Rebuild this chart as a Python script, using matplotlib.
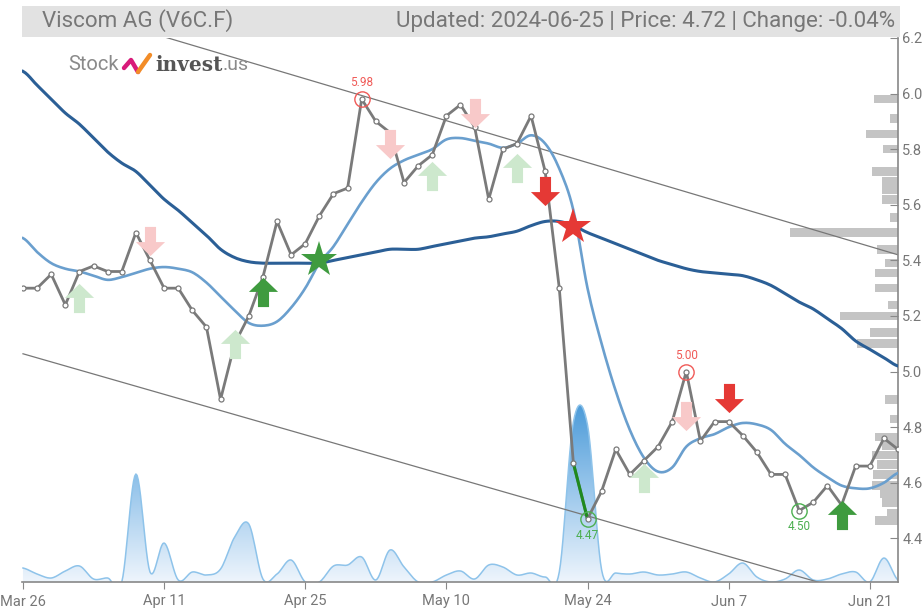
import numpy as np
import pandas as pd
import matplotlib
matplotlib.use('Agg')
import matplotlib.pyplot as plt
from matplotlib.path import Path
from matplotlib.patches import Rectangle
from matplotlib.lines import Line2D

plt.rcParams['font.family'] = ['Roboto', 'DejaVu Sans']

# trading days (Frankfurt), Mar 26 .. Jun 25 2024
holidays = pd.to_datetime(['2024-03-29', '2024-04-01', '2024-05-01'])
dates = [d for d in pd.bdate_range('2024-03-26', '2024-06-25') if d not in holidays]

price = [5.30, 5.30, 5.35, 5.24, 5.36, 5.38, 5.36, 5.36, 5.50, 5.40,
         5.30, 5.30, 5.22, 5.16, 4.90, 5.10, 5.20, 5.34, 5.54, 5.42,
         5.46, 5.56, 5.64, 5.66, 5.98, 5.90, 5.86, 5.68, 5.74, 5.78,
         5.92, 5.96, 5.88, 5.62, 5.80, 5.82, 5.92, 5.72, 5.30, 4.67,
         4.47, 4.57, 4.72, 4.63, 4.68, 4.73, 4.82, 5.00, 4.75, 4.82,
         4.82, 4.77, 4.71, 4.63, 4.63, 4.50, 4.53, 4.59, 4.52, 4.66,
         4.66, 4.76, 4.72]

ma_long = [6.08, 6.03, 5.98, 5.93, 5.89, 5.84, 5.79, 5.75, 5.72, 5.67,
           5.62, 5.58, 5.535, 5.49, 5.44, 5.41, 5.395, 5.39, 5.39, 5.39,
           5.39, 5.39, 5.40, 5.41, 5.42, 5.43, 5.44, 5.44, 5.44, 5.45,
           5.46, 5.47, 5.48, 5.485, 5.495, 5.505, 5.525, 5.54, 5.54, 5.525,
           5.50, 5.48, 5.46, 5.44, 5.42, 5.40, 5.385, 5.37, 5.36, 5.355,
           5.35, 5.345, 5.33, 5.31, 5.28, 5.25, 5.225, 5.19, 5.155, 5.11,
           5.08, 5.05, 5.02]

ma_short = [5.48, 5.43, 5.39, 5.37, 5.36, 5.345, 5.33, 5.34, 5.355, 5.37,
            5.376, 5.37, 5.357, 5.32, 5.27, 5.22, 5.175, 5.165, 5.18, 5.23,
            5.30, 5.39, 5.45, 5.53, 5.61, 5.68, 5.73, 5.76, 5.78, 5.80,
            5.835, 5.84, 5.83, 5.82, 5.805, 5.82, 5.85, 5.82, 5.73, 5.58,
            5.30, 5.10, 4.93, 4.79, 4.69, 4.64, 4.655, 4.73, 4.76, 4.775,
            4.80, 4.815, 4.81, 4.79, 4.74, 4.70, 4.655, 4.62, 4.59, 4.58,
            4.58, 4.60, 4.635]

volume = [14, 8, 4, 11, 16, 3, 4, 0, 108, 10,
          39, 2, 10, 7, 13, 45, 58, 3, 8, 22,
          0, 0, 16, 17, 25, 2, 32, 15, 0, 0,
          7, 11, 3, 17, 15, 7, 9, 5, 10, 160,
          157, 12, 9, 8, 10, 7, 8, 10, 4, 0,
          8, 19, 5, 0, 3, 12, 2, 3, 8, 10,
          0, 24, 2]

# volume profile (price level, relative size)
profile_price = [5.98, 5.91, 5.855, 5.80, 5.72, 5.685, 5.655, 5.62, 5.555, 5.50,
                 5.44, 5.39, 5.355, 5.30, 5.24, 5.20, 5.14, 5.10, 4.90, 4.83,
                 4.765, 4.735, 4.70, 4.665, 4.63, 4.59, 4.56, 4.53, 4.49, 4.465]
profile_size = [24, 8, 32, 15, 26, 16, 16, 16, 8, 108,
                21, 13, 23, 23, 10, 58, 28, 41, 13, 8,
                23, 16, 26, 21, 25, 26, 18, 16, 11, 23]

trend_upper = [6.355, 5.42]
trend_lower = [5.064, 4.16]

# signals: (index, level)
up_faint = [(4, 5.264), (15, 5.10), (29, 5.704), (35, 5.733), (44, 4.617)]
down_faint = [(9, 5.47), (26, 5.82), (32, 5.93), (47, 4.84)]
up_strong = [(17, 5.285), (58, 4.484)]
down_strong = [(37, 5.65), (50, 4.905)]
star_buy = [(21, 5.40)]
star_sell = [(39, 5.52)]
highs = [(24, 5.98), (47, 5.00)]
lows = [(40, 4.47), (55, 4.50)]

title_left = 'Viscom AG (V6C.F)'
title_right = 'Updated: 2024-06-25 | Price: 4.72 | Change: -0.04%'


def smooth(y, n=12):
    y = np.asarray(y, float)
    p = np.concatenate([[y[0]], y, [y[-1]]])
    xs, ys = [], []
    t = np.linspace(0, 1, n, endpoint=False)
    for i in range(len(y) - 1):
        p0, p1, p2, p3 = p[i], p[i + 1], p[i + 2], p[i + 3]
        ys.append(0.5 * (2 * p1 + (-p0 + p2) * t + (2 * p0 - 5 * p1 + 4 * p2 - p3) * t ** 2
                         + (-p0 + 3 * p1 - 3 * p2 + p3) * t ** 3))
        xs.append(i + t)
    xs.append([len(y) - 1]); ys.append([y[-1]])
    return np.concatenate(xs), np.concatenate(ys)


def arrow(up=True):
    v = [(0, 0.5), (0.5, 0.02), (0.19, 0.02), (0.19, -0.5), (-0.19, -0.5), (-0.19, 0.02), (-0.5, 0.02), (0, 0.5)]
    if not up:
        v = [(a, -b) for a, b in v]
    return Path(v, [Path.MOVETO] + [Path.LINETO] * 6 + [Path.CLOSEPOLY])


x = np.arange(len(price))
W, H = 923, 610
fig = plt.figure(figsize=(W / 100, H / 100), dpi=100)
pos = [22 / W, 1 - 582 / H, (898 - 22) / W, (582 - 38) / H]

axv = fig.add_axes(pos, zorder=0)
axp = fig.add_axes(pos, zorder=0.5)
ax = fig.add_axes(pos, zorder=1)
ax.patch.set_visible(False)

xlim = (-0.07, 62.0)
ylim = (4.243, 6.2)

# volume area with gradient
xs, vs = smooth(volume)
axv.set_xlim(*xlim); axv.set_ylim(0, 544)
poly = axv.fill_between(xs, 0, vs, facecolor='none', edgecolor='none')
grad = np.linspace(0, 1, 256).reshape(-1, 1)
cmap = matplotlib.colors.LinearSegmentedColormap.from_list('v', ['#eef5fc', '#9cc8ec', '#4a9ad8'])
im = axv.imshow(grad, cmap=cmap, aspect='auto', origin='lower', extent=[xlim[0], xlim[1], 0, max(volume) + 20], zorder=1)
im.set_clip_path(poly.get_paths()[0], transform=axv.transData)
axv.plot(xs, vs, color='#8ec3ea', lw=1.1, zorder=2)
axv.axis('off')

# volume profile bars, growing from the right axis
axp.barh(profile_price, profile_size, height=0.031, color='#c4c4c4', edgecolor='none')
axp.set_ylim(*ylim); axp.set_xlim(876, 0)
axp.axis('off')

# trend channel
ax.plot([0, 62], trend_upper, color='#777777', lw=0.9, zorder=2)
ax.plot([0, 62], trend_lower, color='#777777', lw=0.9, zorder=2)

# moving averages
xl, yl = smooth(ma_long, 6)
ax.plot(xl, yl, color='#2b5f96', lw=2.2, zorder=3)
xm, ym = smooth(ma_short, 8)
ax.plot(xm, ym, color='#6a9fce', lw=1.9, zorder=3)

# price
ax.plot(x, price, color='#7a7a7a', lw=2.0, zorder=4)
ax.plot(x[39:41], price[39:41], color='#1f8a1f', lw=2.2, zorder=5)
ax.plot(x, price, ls='none', marker='o', ms=3.6, mfc='white', mec='#7a7a7a', mew=0.9, zorder=6)

# signals
for pts, up, col in [(up_faint, True, '#cde8cd'), (down_faint, False, '#f8c9c9'),
                     (up_strong, True, '#3f9b3f'), (down_strong, False, '#e53935')]:
    for i, lv in pts:
        ax.plot(i, lv, marker=arrow(up), ms=21, color=col, mew=0, zorder=7)
for i, lv in star_buy:
    ax.plot(i, lv, marker='*', ms=27, color='#3f9b3f', mew=0, zorder=7)
for i, lv in star_sell:
    ax.plot(i, lv, marker='*', ms=27, color='#e53935', mew=0, zorder=7)

for i, lv in highs:
    ax.plot(i, lv, marker='o', ms=11, mfc='none', mec='#f05a57', mew=1.0, zorder=8)
    ax.annotate('%.2f' % lv, (i, lv), xytext=(0, 7), textcoords='offset points', ha='center', va='bottom',
                fontsize=8.5, color='#f05a57', zorder=8)
for i, lv in lows:
    ax.plot(i, lv, marker='o', ms=11, mfc='none', mec='#4caf50', mew=1.0, zorder=8)
    ax.annotate('%.2f' % lv, (i, lv), xytext=(0, -7), textcoords='offset points', ha='center', va='top',
                fontsize=8.5, color='#4caf50', zorder=8)

ax.set_xlim(*xlim); ax.set_ylim(*ylim)
for s in ['left', 'top']:
    ax.spines[s].set_visible(False)
for s in ['right', 'bottom']:
    ax.spines[s].set_color('#888888')
    ax.spines[s].set_linewidth(1.2)
ax.yaxis.tick_right()
ax.set_yticks(np.arange(4.4, 6.21, 0.2))
ax.set_yticklabels(['%.1f' % v for v in np.arange(4.4, 6.21, 0.2)])
ax.tick_params(axis='y', direction='in', length=6, color='#888888', labelcolor='#777777', labelsize=10.5, pad=3)
tick_idx = list(range(0, 62, 10))
ax.set_xticks(tick_idx)
ax.set_xticklabels([dates[i].strftime('%b ') + str(dates[i].day) for i in tick_idx])
ax.tick_params(axis='x', direction='out', length=5, color='#888888', labelcolor='#777777', labelsize=10.5, pad=4)

# header
fig.patches.append(Rectangle((22 / W, 1 - 37 / H), (900 - 22) / W, 31 / H, transform=fig.transFigure,
                             facecolor='#e2e2e2', edgecolor='none', zorder=0))
tl = fig.text(42 / W, 1 - 21 / H, title_left, fontsize=13, color='#777777', va='center', ha='left')
tr = fig.text(895 / W, 1 - 21 / H, title_right, fontsize=13, color='#777777', va='center', ha='right')
fig.canvas.draw()
scale = (895 - 397) / tr.get_window_extent().width
tl.set_fontsize(13 * scale); tr.set_fontsize(13 * scale)

# logo
t_st = fig.text(68 / W, 1 - 65 / H, 'Stock', fontsize=14.5, color='#8a8a8a', va='center', ha='left')
fig.lines.append(Line2D([124 / W, 131 / W, 138 / W], [1 - 68 / H, 1 - 60 / H, 1 - 72 / H],
                        transform=fig.transFigure, color='#d81b7a', lw=3.2, solid_capstyle='round'))
fig.lines.append(Line2D([138 / W, 150 / W], [1 - 72 / H, 1 - 55 / H],
                        transform=fig.transFigure, color='#f28c28', lw=3.2, solid_capstyle='round'))
t_inv = fig.text(155 / W, 1 - 65 / H, 'invest', fontsize=14.5, fontweight='bold', color='#555555',
                 va='center', ha='left', family='DejaVu Serif')
fig.canvas.draw()
bb = t_inv.get_window_extent()
fig.text(bb.x1 / W, 1 - 65 / H, '.us', fontsize=14, color='#8a8a8a', va='center', ha='left')

plt.savefig('out.png', dpi=100, facecolor='white')
plt.close()
